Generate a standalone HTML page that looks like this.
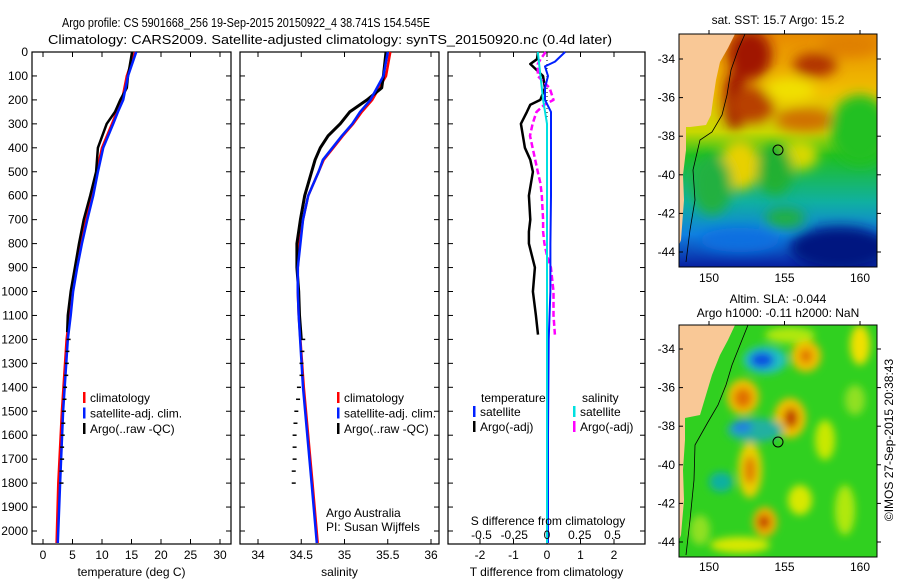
<!DOCTYPE html>
<html><head><meta charset="utf-8">
<style>
body{margin:0;background:#fff;}
svg text{font-family:"Liberation Sans",sans-serif;fill:#000;}
</style></head>
<body>
<svg id="c" width="900" height="580" viewBox="0 0 900 580" xmlns="http://www.w3.org/2000/svg">
<defs>
<filter id="bl" x="-50%" y="-50%" width="200%" height="200%"><feGaussianBlur stdDeviation="6"/></filter>
<filter id="bl2" x="-50%" y="-50%" width="200%" height="200%"><feGaussianBlur stdDeviation="4"/></filter>
<clipPath id="m1c"><rect x="679" y="34" width="198" height="233"/></clipPath>
<clipPath id="m2c"><rect x="679" y="325" width="198" height="232"/></clipPath>
<linearGradient id="sstg" x1="0" y1="0" x2="0" y2="1">
<stop offset="0" stop-color="#e88a00"/><stop offset="0.25" stop-color="#f0c000"/><stop offset="0.42" stop-color="#c8d800"/>
<stop offset="0.52" stop-color="#20c020"/><stop offset="0.72" stop-color="#10b0a0"/><stop offset="0.86" stop-color="#1080e0"/><stop offset="1" stop-color="#0820a0"/>
</linearGradient>
</defs>
<text x="246" y="27" font-size="13" text-anchor="middle" textLength="368" lengthAdjust="spacingAndGlyphs">Argo profile: CS 5901668_256 19-Sep-2015 20150922_4 38.741S 154.545E</text>
<text x="330" y="44" font-size="13" text-anchor="middle" textLength="564" lengthAdjust="spacingAndGlyphs">Climatology: CARS2009. Satellite-adjusted climatology: synTS_20150920.nc (0.4d later)</text>
<g id="plots"></g>
<g clip-path="url(#m1c)">
<rect x="679" y="34" width="198" height="233" fill="url(#sstg)"/>
<g filter="url(#bl)">
<ellipse cx="750" cy="55" rx="22" ry="25" fill="#a01800"/>
<ellipse cx="735" cy="100" rx="12" ry="30" fill="#a01800"/>
<ellipse cx="752" cy="105" rx="22" ry="18" fill="#b84000"/>
<ellipse cx="815" cy="65" rx="22" ry="12" fill="#b03000"/>
<ellipse cx="850" cy="45" rx="30" ry="12" fill="#e08000"/>
<ellipse cx="805" cy="120" rx="30" ry="12" fill="#d07000"/>
<ellipse cx="790" cy="90" rx="25" ry="12" fill="#f0e000"/>
<ellipse cx="860" cy="130" rx="30" ry="35" fill="#20c020"/>
<ellipse cx="740" cy="165" rx="20" ry="25" fill="#e8d000"/>
<ellipse cx="800" cy="155" rx="18" ry="15" fill="#d8d800"/>
<ellipse cx="775" cy="170" rx="18" ry="25" fill="#20b030"/>
<ellipse cx="712" cy="185" rx="20" ry="30" fill="#20b040"/>
<ellipse cx="740" cy="240" rx="40" ry="12" fill="#1070e0"/>
<ellipse cx="840" cy="248" rx="50" ry="22" fill="#001880"/>
<ellipse cx="785" cy="218" rx="20" ry="10" fill="#20b040"/>
</g>
<polygon points="679,34 735,34 728,48 720,62 716,80 713,100 711,115 706,125 690,127 679,127" fill="#f9c896"/>
<polygon points="679,127 686,127 686,150 683,175 684,200 681,240 679,245" fill="#f9c896"/>
<polyline points="745,34 738,50 731,70 727,95 722,115 712,132 700,140 693,170 695,200 690,230 686,262" fill="none" stroke="#000" stroke-width="0.8"/>
<circle cx="778" cy="150" r="5" fill="none" stroke="#000"/>
</g>
<rect x="679" y="34" width="198" height="233" fill="none" stroke="#000"/>
<text x="778" y="24" font-size="12" text-anchor="middle">sat. SST: 15.7 Argo: 15.2</text>
<g clip-path="url(#m2c)">
<rect x="679" y="325" width="198" height="232" fill="#30d020"/>
<g filter="url(#bl2)">
<ellipse cx="765" cy="360" rx="22" ry="14" fill="#20c0c0"/>
<ellipse cx="762" cy="360" rx="12" ry="8" fill="#1050e0"/>
<ellipse cx="743" cy="397" rx="16" ry="18" fill="#f0c000"/>
<ellipse cx="743" cy="398" rx="9" ry="10" fill="#e07000"/>
<ellipse cx="790" cy="418" rx="16" ry="20" fill="#f0c000"/>
<ellipse cx="791" cy="418" rx="7" ry="10" fill="#c04000"/>
<ellipse cx="806" cy="356" rx="15" ry="16" fill="#f0c000"/>
<ellipse cx="806" cy="356" rx="6" ry="7" fill="#e07000"/>
<ellipse cx="755" cy="430" rx="28" ry="12" fill="#20b0a0"/>
<ellipse cx="742" cy="427" rx="10" ry="6" fill="#2080e0"/>
<ellipse cx="750" cy="470" rx="12" ry="28" fill="#e8d000"/>
<ellipse cx="750" cy="470" rx="6" ry="14" fill="#e08000"/>
<ellipse cx="765" cy="522" rx="12" ry="15" fill="#f0b000"/>
<ellipse cx="764" cy="522" rx="6" ry="7" fill="#c03000"/>
<ellipse cx="721" cy="482" rx="12" ry="10" fill="#10b0a0"/>
<ellipse cx="860" cy="345" rx="10" ry="20" fill="#f0e000"/>
<ellipse cx="825" cy="440" rx="10" ry="20" fill="#c8e800"/>
<ellipse cx="800" cy="500" rx="12" ry="15" fill="#d8e800"/>
<ellipse cx="740" cy="545" rx="30" ry="8" fill="#d8e800"/>
<ellipse cx="845" cy="510" rx="10" ry="25" fill="#b0e810"/>
<ellipse cx="790" cy="335" rx="25" ry="8" fill="#b0e810"/>
<ellipse cx="855" cy="400" rx="10" ry="15" fill="#90e020"/>
<ellipse cx="700" cy="530" rx="10" ry="15" fill="#90e020"/>
</g>
<polygon points="679,325 735,325 728,340 720,355 712,375 706,395 700,415 685,418 679,418" fill="#f9c896"/>
<polygon points="679,418 685,418 685,440 683,470 684,500 681,535 679,540" fill="#f9c896"/>
<polyline points="748,325 740,345 732,365 726,385 718,405 708,422 695,445 694,480 690,520 686,555" fill="none" stroke="#000" stroke-width="0.8"/>
<circle cx="778" cy="442" r="5" fill="none" stroke="#000"/>
</g>
<rect x="679" y="325" width="198" height="232" fill="none" stroke="#000"/>
<text x="778" y="303" font-size="12" text-anchor="middle">Altim. SLA: -0.044</text>
<text x="778" y="317" font-size="12" text-anchor="middle">Argo h1000: -0.11 h2000: NaN</text>
<text transform="translate(893,440) rotate(-90)" font-size="12" text-anchor="middle">©IMOS 27-Sep-2015 20:38:43</text>
</svg>
<script>
const depthTicks=[0,100,200,300,400,500,600,700,800,900,1000,1100,1200,1300,1400,1500,1600,1700,1800,1900,2000];
const tTicks=[0,5,10,15,20,25,30];
const sTicks=[34,34.5,35,35.5,36];
const tdTicks=[-2,-1,0,1,2];
const tdLabels=["-2","-1","0","1","2"];
const sdTicks=[-0.5,-0.25,0,0.25,0.5];
const mapLat=[-34,-36,-38,-40,-42,-44];
const mapLon=[150,155,160];
const depthSat=[0,100,200,250,300,400,500,600,700,800,900,1000,1100,1200,1500,1800,2050];
const tempSat=[15.8,14.4,13.6,12.7,11.9,10.2,9.3,8.5,7.5,6.6,5.8,5.1,4.7,4.2,3.4,2.9,2.5];
const tempClim=[15.6,14.2,13.4,12.5,11.7,10.0,9.1,8.3,7.3,6.4,5.6,4.9,4.5,4.0,3.2,2.6,2.3];
const depthArgo=[0,100,150,200,250,300,400,500,600,700,800,900,1000,1100,1170];
const tempArgo=[15.1,14.4,14.2,13.1,12.2,10.8,9.3,9.0,8.0,6.9,6.1,5.4,4.7,4.2,4.1];
const depthArgoDots=[1200,1250,1300,1350,1400,1450,1500,1550,1600,1650,1700,1750,1800];
const tempArgoDots=[4.0,3.8,3.7,3.6,3.4,3.3,3.2,3.1,3.0,2.9,2.9,2.8,2.8];
const depthSal=[0,100,200,250,300,350,400,450,500,600,700,800,900,1000,1100,1400,1800,2050];
const salSat=[35.5,35.45,35.3,35.18,35.09,34.97,34.86,34.75,34.7,34.58,34.52,34.49,34.46,34.46,34.47,34.52,34.62,34.68];
const salClim=[35.53,35.48,35.32,35.2,35.1,34.98,34.87,34.76,34.7,34.58,34.52,34.48,34.46,34.46,34.47,34.53,34.63,34.69];
const depthSalArgo=[0,100,150,200,250,300,350,400,450,500,600,700,800,900,1000,1100,1200];
const salArgo=[35.48,35.45,35.43,35.26,35.06,34.95,34.81,34.72,34.66,34.62,34.54,34.49,34.45,34.45,34.47,34.48,34.5];
const salArgoDots=[34.5,34.49,34.48,34.48,34.45,34.44,34.42,34.41,34.4,34.4,34.4,34.39,34.39];
const depthDiff=[0,30,50,100,150,200,220,250,300,350,400,450,500,550,600,700,750,800,850,900,1000,1100,1180];
const tDiffArgo=[-0.27,-0.3,-0.5,-0.12,-0.06,-0.2,-0.5,-0.6,-0.78,-0.72,-0.66,-0.5,-0.42,-0.48,-0.54,-0.5,-0.54,-0.54,-0.45,-0.36,-0.42,-0.33,-0.27];
const depthTSat=[0,40,60,100,150,200,250,400,600,800,1000,1200,1600,2050];
const tDiffSat=[0.54,0.24,-0.06,0.03,-0.06,-0.06,0.12,0.12,0.12,0.1,0.1,0.05,0.03,0.03];
const sDiffArgo=[-0.01,-0.05,-0.07,-0.07,0.02,0.05,-0.02,-0.08,-0.11,-0.13,-0.11,-0.09,-0.07,-0.05,-0.04,-0.03,-0.03,-0.02,0.0,0.03,0.05,0.05,0.06];
const depthSSat=[0,100,200,300,600,1000,1500,2050];
const sDiffSat=[-0.07,-0.05,-0.03,0,0,0,0,0];

const NS="http://www.w3.org/2000/svg";
const TOP=52,BOT=544;
const yD=d=>TOP+d*0.2395;
const xT=v=>43+v*5.9;
const xS=v=>258+(v-34)*86.5;
const xTd=v=>547+v*33.5;
const xSd=v=>547+v*131;
const root=document.getElementById('plots');
function el(tag,attrs,parent){const e=document.createElementNS(NS,tag);for(const k in attrs)e.setAttribute(k,attrs[k]);(parent||root).appendChild(e);return e;}
function step(xs,ds,fx){let p='';for(let i=0;i<xs.length;i++){const x=fx(xs[i]).toFixed(1),y=yD(ds[i]).toFixed(1);p+=(i?'L':'M')+x+','+y;}return p;}

const panels=[{l:32,r:231,name:'temperature-panel',title:'temperature (deg C)',ticks:tTicks,labels:tTicks.map(String),fx:xT},
{l:240,r:439,name:'salinity-panel',title:'salinity',ticks:sTicks,labels:sTicks.map(String),fx:xS},
{l:448,r:645,name:'difference-panel',title:'T difference from climatology',ticks:tdTicks,labels:tdLabels,fx:xTd}];
panels.forEach((p,pi)=>{
  const g=el('g',{});
  
  
  const fr=el('rect',{x:p.l,y:TOP,width:p.r-p.l,height:BOT-TOP,fill:'none',stroke:'#000','stroke-width':1.2},g);
  
  
  depthTicks.forEach(d=>{
    el('line',{x1:p.l,x2:p.l+5,y1:yD(d),y2:yD(d),stroke:'#000'},g);
    el('line',{x1:p.r,x2:p.r-5,y1:yD(d),y2:yD(d),stroke:'#000'},g);
  });
  p.ticks.forEach((v,i)=>{
    const x=p.fx(v);
    el('line',{x1:x,x2:x,y1:BOT,y2:BOT-5,stroke:'#000'},g);
    el('line',{x1:x,x2:x,y1:TOP,y2:TOP+5,stroke:'#000'},g);
    const t=el('text',{x:x,y:BOT+15,'font-size':12,'text-anchor':'middle'},g);
    t.textContent=p.labels[i];
    
    
  });
  const tt=el('text',{x:(p.l+p.r)/2,y:BOT+32,'font-size':12,'text-anchor':'middle'},g);
  tt.textContent=p.title;
  
  
});
depthTicks.forEach(d=>{
  const t=el('text',{x:28,y:yD(d)+4,'font-size':12,'text-anchor':'end'});
  t.textContent=String(d);
  
  
});
const zl=el('line',{x1:547,x2:547,y1:TOP,y2:BOT,stroke:'#000','stroke-dasharray':'1,3'});



function line(xs,ds,fx,color,w,name,dash){
  const e=el('path',{d:step(xs,ds,fx),fill:'none',stroke:color,'stroke-width':w,'stroke-linejoin':'round'});
  if(dash)e.setAttribute('stroke-dasharray',dash);
  
  
  return e;
}
function dashes(xs,ds,fx,name){
  xs.forEach((v,i)=>{
    const x=fx(v),y=yD(ds[i]);
    const e=el('line',{x1:x,x2:x+4,y1:y,y2:y,stroke:'#000','stroke-width':1.5});
    
    
  });
}
line(tempClim,depthSat,xT,'#f00',2.5,'temperature-climatology-line');
line(tempArgo,depthArgo,xT,'#000',2.5,'temperature-argo-line');
line(tempSat,depthSat,xT,'#0020ff',2.5,'temperature-satellite-line');
dashes(tempArgoDots,depthArgoDots,xT,'temperature-argo-qc-mark');
line(salClim,depthSal,xS,'#f00',2.5,'salinity-climatology-line');
line(salArgo,depthSalArgo,xS,'#000',3,'salinity-argo-line');
line(salSat,depthSal,xS,'#0020ff',2.5,'salinity-satellite-line');
dashes(salArgoDots,depthArgoDots,xS,'salinity-argo-qc-mark');
line(tDiffArgo,depthDiff,xTd,'#000',2.5,'t-diff-argo-line');
line(sDiffArgo,depthDiff,xSd,'#ff00ff',2.5,'s-diff-argo-line','6,3');
line(tDiffSat,depthTSat,xTd,'#0020ff',2,'t-diff-satellite-line');
line(sDiffSat,depthSSat,xSd,'#00e0e0',2,'s-diff-satellite-line');
sdTicks.forEach(v=>{
  const t=el('text',{x:xSd(v),y:539,'font-size':12,'text-anchor':'middle'});
  t.textContent=String(v);
  
  
});
function txt(x,y,s,name,anchor){const t=el('text',{x:x,y:y,'font-size':12,'text-anchor':anchor||'start'});t.textContent=s;return t;}
txt(548,525,'S difference from climatology','s-diff-axis-title','middle');
txt(326,517,'Argo Australia','institution-label');
txt(326,531,'PI: Susan Wijffels','pi-label');
function legend(x,y,color,label,name){
  const r=el('rect',{x:x,y:y-6,width:2.5,height:11,fill:color});
  
  
  txt(x+7,y+4,label,name);
}
[[83,'#f00','climatology'],[83,'#0020ff','satellite-adj. clim.'],[83,'#000','Argo(..raw -QC)']].forEach((a,i)=>legend(a[0],398+i*15.5,a[1],a[2],'legend-entry'));
[[337,'#f00','climatology'],[337,'#0020ff','satellite-adj. clim.'],[337,'#000','Argo(..raw -QC)']].forEach((a,i)=>legend(a[0],398+i*15.5,a[1],a[2],'legend-entry'));
txt(481,402,'temperature','legend-heading-temperature');
txt(582,402,'salinity','legend-heading-salinity');
legend(473,412,'#0020ff','satellite','legend-entry');
legend(473,427,'#000','Argo(-adj)','legend-entry');
legend(573,412,'#00e0e0','satellite','legend-entry');
legend(573,427,'#ff00ff','Argo(-adj)','legend-entry');
const svg=document.getElementById('c');
[[34,59,282],[325,349,571]].forEach(m=>{
  mapLat.forEach(lat=>{
    const yy=m[1]+((-34-lat)/2)*38.6;
    const t=el('text',{x:675,y:yy+4,'font-size':12,'text-anchor':'end'},svg);
    t.textContent=String(lat);
    
    
    el('line',{x1:679,x2:683,y1:yy,y2:yy,stroke:'#000'},svg);
    el('line',{x1:877,x2:881,y1:yy,y2:yy,stroke:'#000'},svg);
  });
  mapLon.forEach(lon=>{
    const x=709+(lon-150)*15.1;
    const t=el('text',{x:x,y:m[2],'font-size':12,'text-anchor':'middle'},svg);
    t.textContent=String(lon);
    
    
    el('line',{x1:x,x2:x,y1:m[0]-4,y2:m[0],stroke:'#000'},svg);
  });
});
</script>
</body></html>
